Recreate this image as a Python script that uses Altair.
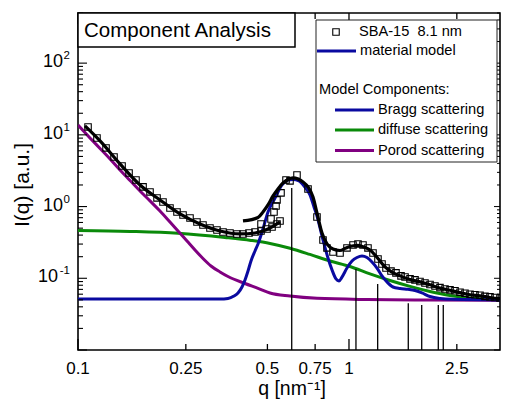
import altair as alt
import pandas as pd

FONT = "Liberation Sans"
W, H = 422, 337

# ---------------- data ----------------
data_q = [0.1089, 0.1175, 0.1269, 0.1358, 0.1454, 0.1543, 0.1637, 0.1738, 0.1844, 0.1957,
          0.2059, 0.2185, 0.2319, 0.2441, 0.2590, 0.2748, 0.2892, 0.3069, 0.3257, 0.3428,
          0.3638, 0.3860, 0.4063, 0.4276, 0.4500, 0.4735, 0.4983, 0.5200, 0.5425, 0.5565,
          0.4735, 0.5155, 0.5288, 0.5379, 0.5425, 0.5613, 0.5856, 0.6059, 0.6429, 0.7060,
          0.7619, 0.8019, 0.8294, 0.8730, 0.9268, 0.9831, 1.0347, 1.0794, 1.1263, 1.1751,
          1.2262, 1.2794, 1.3238, 1.3695, 1.4289, 1.4909, 1.5561, 1.6097, 1.6796, 1.7524,
          1.8281, 1.9075, 1.9903, 2.0766, 2.1667, 2.2607, 2.3593, 2.4616, 2.5686, 2.6792,
          2.7958, 2.9167, 3.0436, 3.1755, 3.3138, 3.4573, 3.6078, 3.7640]
data_I = [12.9, 9.05, 6.57, 4.92, 3.68, 2.94, 2.35, 1.88, 1.60, 1.32,
          1.16, 0.956, 0.841, 0.764, 0.693, 0.610, 0.554, 0.503, 0.472, 0.442,
          0.428, 0.415, 0.415, 0.428, 0.442, 0.457, 0.487, 0.519, 0.572, 0.630,
          0.572, 0.672, 0.841, 1.02, 1.24, 1.55, 2.35, 2.28, 2.76, 1.76,
          0.716, 0.342, 0.265, 0.233, 0.225, 0.265, 0.291, 0.301, 0.291, 0.265,
          0.225, 0.186, 0.158, 0.139, 0.126, 0.119, 0.108, 0.104, 0.098, 0.095,
          0.090, 0.086, 0.082, 0.078, 0.074, 0.071, 0.069, 0.067, 0.064, 0.062,
          0.060, 0.059, 0.058, 0.056, 0.055, 0.054, 0.053, 0.052]

model_low_q = [0.1061, 0.1206, 0.1429, 0.1694, 0.2007, 0.2379, 0.2819, 0.3342, 0.3962, 0.4500, 0.5025, 0.5565]
model_low_I = [13.3, 8.22, 3.93, 2.00, 1.236, 0.789, 0.572, 0.457, 0.415, 0.428, 0.487, 0.610]

model_q = [0.4063, 0.4616, 0.4816, 0.5025, 0.5244, 0.5470, 0.5708, 0.5956, 0.6215, 0.6484,
           0.6766, 0.7060, 0.7366, 0.7619, 0.7951, 0.8294, 0.8730, 0.9268, 0.9748, 1.0259,
           1.0794, 1.1360, 1.1955, 1.2474, 1.3016, 1.3581, 1.4410, 1.5427, 1.6796, 1.8281,
           1.9903, 2.1667, 2.3593, 2.5686, 2.7958, 3.0436, 3.3138, 3.6078, 3.862]
model_I = [0.630, 0.705, 0.841, 1.053, 1.405, 1.760, 2.134, 2.388, 2.505, 2.426,
           2.203, 1.877, 1.361, 0.814, 0.428, 0.301, 0.256, 0.244, 0.265, 0.282,
           0.287, 0.273, 0.248, 0.211, 0.174, 0.144, 0.122, 0.108, 0.096, 0.089,
           0.081, 0.073, 0.068, 0.063, 0.059, 0.057, 0.054, 0.052, 0.051]

bragg_q = [0.1, 0.1844, 0.3342, 0.3577, 0.3763, 0.3894, 0.4029, 0.4133, 0.4240, 0.4349,
           0.4500, 0.4616, 0.4816, 0.5025, 0.5333, 0.5661, 0.5956, 0.6215, 0.6539, 0.6824,
           0.7179, 0.7428, 0.7619, 0.8019, 0.8366, 0.8656, 0.8954, 0.9186, 0.9423, 0.9832,
           1.0259, 1.0702, 1.1168, 1.1652, 1.2158, 1.2686, 1.3236, 1.381, 1.4537, 1.5427,
           1.6513, 1.7525, 1.8593, 1.99, 2.1667, 2.42, 3.862]
bragg_I = [0.0514, 0.0514, 0.0514, 0.0523, 0.0566, 0.0624, 0.0756, 0.0947, 0.1264, 0.1743,
           0.2403, 0.3009, 0.4872, 0.8409, 1.318, 2.001, 2.350, 2.388, 2.275, 1.938,
           1.451, 0.987, 0.739, 0.342, 0.192, 0.131, 0.098, 0.092, 0.104, 0.139,
           0.174, 0.195, 0.205, 0.195, 0.169, 0.139, 0.108, 0.089, 0.0756, 0.0721,
           0.0702, 0.0676, 0.0624, 0.0557, 0.0523, 0.0509, 0.0498]

diffuse_q = [0.1, 0.1556, 0.2339, 0.3485, 0.4349, 0.5112, 0.6059, 0.7179, 0.8507, 1.0086,
             1.1955, 1.417, 1.6796, 1.99, 2.3586, 2.7958, 3.862]
diffuse_I = [0.464, 0.450, 0.424, 0.371, 0.337, 0.306, 0.262, 0.215, 0.174, 0.146,
             0.115, 0.093, 0.077, 0.0655, 0.0576, 0.0531, 0.0498]

porod_q = [0.1, 0.1107, 0.1206, 0.1313, 0.1429, 0.1556, 0.1694, 0.1844, 0.2007, 0.2185,
           0.2339, 0.2525, 0.2703, 0.2892, 0.3096, 0.3342, 0.3577, 0.4133, 0.4616, 0.5112,
           0.6059, 0.7619, 1.165, 1.99, 3.86]
porod_I = [13.7, 9.06, 6.46, 4.61, 3.24, 2.31, 1.65, 1.20, 0.868, 0.609,
           0.457, 0.331, 0.248, 0.189, 0.1485, 0.1224, 0.1059, 0.0846, 0.0725, 0.0624,
           0.0566, 0.0526, 0.0506, 0.0498, 0.0493]

peak_q = [0.6147, 1.061, 1.276, 1.655, 1.855, 2.136, 2.228]
peak_I = [1.82, 0.135, 0.083, 0.045, 0.0425, 0.0425, 0.0425]

x_major = [0.1, 1]
x_minor = [0.25, 0.5, 0.75, 2.5]
x_tick_values = [0.1, 0.25, 0.5, 0.75, 1, 2.5]
x_tick_labels = ["0.1", "0.25", "0.5", "0.75", "1", "2.5"]
y_major = [0.01, 0.1, 1, 10, 100]
y_minor = [m * 10.0 ** e for e in range(-2, 3) for m in range(2, 10) if m * 10.0 ** e <= 500]
y_label_values = [0.1, 1, 10, 100]
y_label_exps = ["-1", "0", "1", "2"]

BLUE = "#0a0aa0"
GREEN = "#0a8a0a"
PURPLE = "#800080"

xs = alt.Scale(type="log", domain=[0.1, 3.608], nice=False)
ys = alt.Scale(type="log", domain=[0.01, 500], nice=False)


def curve(q, I, color, width=3.0):
    df = pd.DataFrame({"q": q, "I": I})
    return alt.Chart(df).mark_line(color=color, strokeWidth=width, interpolate="monotone", clip=True).encode(
        x=alt.X("q:Q", scale=xs, axis=None),
        y=alt.Y("I:Q", scale=ys, axis=None),
    )


def one(text):
    return pd.DataFrame({"t": [text]})


layers = []
layers.append(curve(diffuse_q, diffuse_I, GREEN))
layers.append(curve(porod_q, porod_I, PURPLE))
layers.append(curve(bragg_q, bragg_I, BLUE))

peaks = alt.Chart(pd.DataFrame({"q": peak_q, "I": peak_I})).mark_rule(color="black", strokeWidth=1.3).encode(
    x=alt.X("q:Q", scale=xs, axis=None),
    y=alt.Y("I:Q", scale=ys, axis=None),
    y2=alt.value(H),
)
layers.append(peaks)

layers.append(curve(model_low_q, model_low_I, "black", 3.2))
layers.append(curve(model_q, model_I, "black", 3.2))

squares = alt.Chart(pd.DataFrame({"q": data_q, "I": data_I})).mark_point(
    shape="square", size=42, filled=False, color="black", strokeWidth=1.1, opacity=1, clip=True
).encode(x=alt.X("q:Q", scale=xs, axis=None), y=alt.Y("I:Q", scale=ys, axis=None))
layers.append(squares)


# ---- inward ticks ----
def xticks(vals, y0, y1):
    return alt.Chart(pd.DataFrame({"v": vals})).mark_rule(color="black", strokeWidth=1.3).encode(
        x=alt.X("v:Q", scale=xs, axis=None), y=alt.value(y0), y2=alt.value(y1))


def yticks(vals, x0, x1, w=1.1):
    return alt.Chart(pd.DataFrame({"v": vals})).mark_rule(color="black", strokeWidth=w).encode(
        y=alt.Y("v:Q", scale=ys, axis=None), x=alt.value(x0), x2=alt.value(x1))


layers += [
    xticks(x_minor, H, H - 6), xticks(x_major, H, H - 11),
    xticks(x_minor, 0, 6), xticks(x_major, 0, 11),
    yticks(y_major, 0, 9), yticks(y_minor, 0, 5),
    yticks(y_major, W, W - 6, 1.0), yticks(y_minor, W, W - 3, 1.0),
]

# ---- tick labels ----
xlab = alt.Chart(pd.DataFrame({"v": x_tick_values, "l": x_tick_labels})).mark_text(
    font=FONT, fontSize=17, align="center", baseline="alphabetic", color="black"
).encode(x=alt.X("v:Q", scale=xs, axis=None), y=alt.value(H + 24), text="l:N")
layers.append(xlab)

ydf = pd.DataFrame({"v": y_label_values, "e": y_label_exps})
yexp = alt.Chart(ydf).mark_text(font=FONT, fontSize=11.5, align="right", baseline="middle", dy=-7, color="black").encode(
    y=alt.Y("v:Q", scale=ys, axis=None), x=alt.value(-8), text="e:N")
ybase_a = alt.Chart(ydf).transform_filter("datum.v >= 1").mark_text(
    font=FONT, fontSize=18, align="right", baseline="middle", dy=-1, color="black", text="10"
).encode(y=alt.Y("v:Q", scale=ys, axis=None), x=alt.value(-15))
ybase_b = alt.Chart(ydf).transform_filter("datum.v < 1").mark_text(
    font=FONT, fontSize=18, align="right", baseline="middle", dy=-1, color="black", text="10"
).encode(y=alt.Y("v:Q", scale=ys, axis=None), x=alt.value(-20))
layers += [yexp, ybase_a, ybase_b]

# ---- axis titles ----
ytitle = alt.Chart(one("I(q) [a.u.]")).mark_text(
    font=FONT, fontSize=21, angle=270, align="center", baseline="middle", color="black"
).encode(x=alt.value(-55), y=alt.value(172), text="t:N")
xtitle = alt.Chart(one("q [nm⁻¹]")).mark_text(
    font=FONT, fontSize=19.5, align="center", baseline="alphabetic", color="black"
).encode(x=alt.value(214), y=alt.value(382), text="t:N")
layers += [ytitle, xtitle]

# ---- title box ----
tbox = alt.Chart(one("")).mark_rect(fill="white", stroke="black", strokeWidth=1.5).encode(
    x=alt.value(0), x2=alt.value(217), y=alt.value(0), y2=alt.value(34))
ttext = alt.Chart(one("Component Analysis")).mark_text(
    font=FONT, fontSize=20.5, align="left", baseline="middle", color="black"
).encode(x=alt.value(6), y=alt.value(17.5), text="t:N")
layers += [tbox, ttext]

# ---- legend box ----
LX = -3
lbox = alt.Chart(one("")).mark_rect(fill="white", stroke="#222222", strokeWidth=1).encode(
    x=alt.value(241 + LX), x2=alt.value(419), y=alt.value(7), y2=alt.value(149))
layers.append(lbox)
lsq = alt.Chart(one("")).mark_point(shape="square", size=42, filled=False, color="black", strokeWidth=1.1, opacity=1).encode(
    x=alt.value(261 + LX), y=alt.value(19))
layers.append(lsq)


def lline(x0, x1, y, color):
    return alt.Chart(one("")).mark_rule(color=color, strokeWidth=3).encode(
        x=alt.value(x0 + LX), x2=alt.value(x1 + LX), y=alt.value(y))


def ltext(text, x, y):
    return alt.Chart(one(text)).mark_text(font=FONT, fontSize=14.6, align="left", baseline="middle", color="black").encode(
        x=alt.value(x + LX), y=alt.value(y), text="t:N")


layers += [
    ltext("SBA-15\u00a0 8.1 nm", 284, 19),
    lline(242, 281, 38, BLUE), ltext("material model", 285, 38),
    ltext("Model Components:", 244, 77),
    lline(260, 299, 97, BLUE), ltext("Bragg scattering", 303, 97),
    lline(260, 299, 117, GREEN), ltext("diffuse scattering", 303, 117),
    lline(260, 299, 137.5, PURPLE), ltext("Porod scattering", 303, 137.5),
]

chart = alt.layer(*layers).properties(
    width=W, height=H,
    padding={"left": 70, "top": 5, "right": 1, "bottom": 49},
    autosize=alt.AutoSizeParams(type="none"),
).configure_view(stroke="black", strokeWidth=1.6)

chart.save("out.html", embed_options={"renderer": "svg", "actions": False})
